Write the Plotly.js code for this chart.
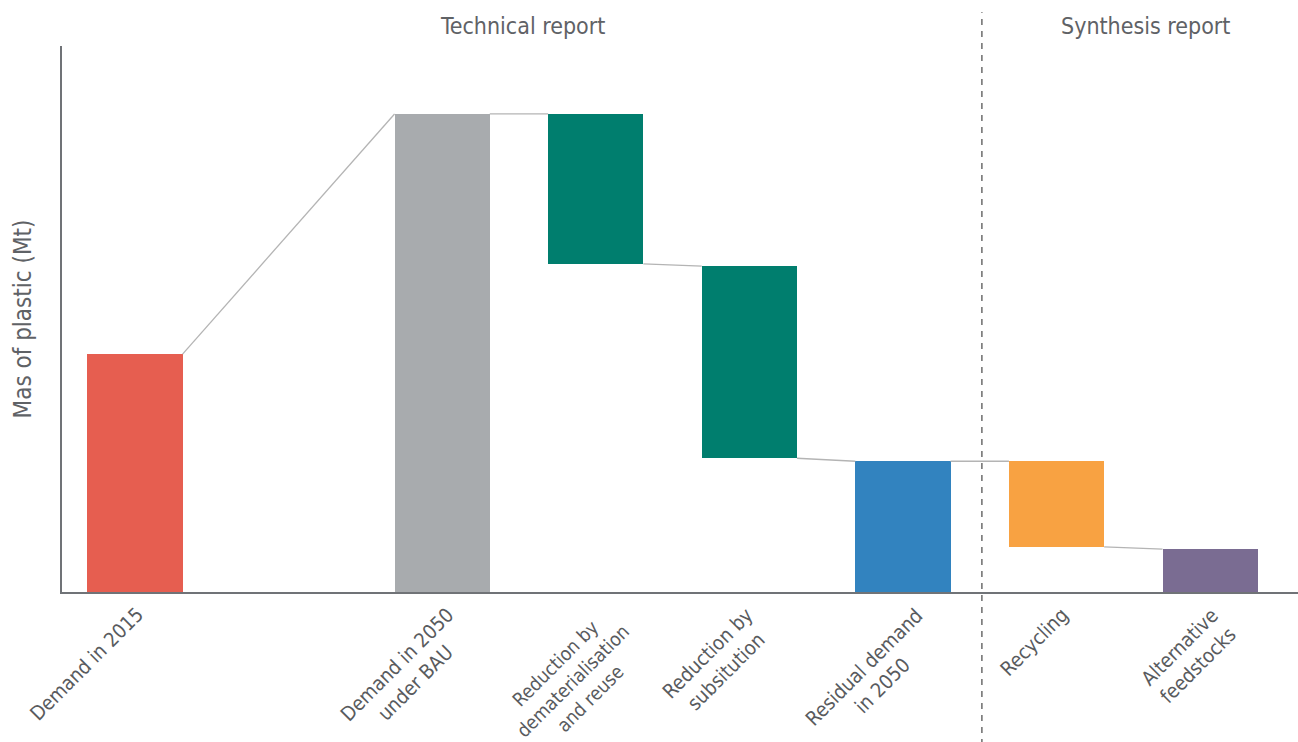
<!DOCTYPE html>
<html>
<head>
<meta charset="utf-8">
<script src="https://cdn.plot.ly/plotly-3.0.1.min.js"></script>
<style>html,body{margin:0;padding:0;background:#fff;}#chart{width:1298px;height:742px;}</style>
</head>
<body>
<div id="chart"></div>
<script>
// Categories and their slot positions (one empty slot between 2015 and 2050)
const categories = ["Demand in 2015", "Demand in 2050<br>under BAU", "Reduction by<br>dematerialisation<br>and reuse", "Reduction by<br>subsitution", "Residual demand<br>in 2050", "Recycling", "Alternative<br>feedstocks"];
const slots = [0, 2, 3, 4, 5, 6, 7];
// Bar bottoms and tops (Mt, estimated)
const barBase = [0, 0, 444, 181, 0, 61, 0];
const barTop = [322, 647, 647, 441, 177, 177, 58];
// Whether bar is a decrease step (connector leaves from its bottom)
const isDecrease = [false, false, true, true, false, true, false];
const colors = ["#E65E50", "#A8ABAE", "#007E6E", "#007E6E", "#3283BF", "#F8A242", "#7A6C92"];
const sectionTitles = ["Technical report", "Synthesis report"];

// style: label offsets (pixels)
const labelShift = [16, 37, 58, 30, 46, 19, 34];
const labelSize = [20, 20, 19, 20, 20, 20, 20];

const barWidth = 0.62;
const fontFam = "'Liberation Sans Narrow', 'DejaVu Sans Condensed', 'Roboto', sans-serif";

const traces = [];
for (let i = 0; i < slots.length - 1; i++) {
  const out = isDecrease[i] ? barBase[i] : barTop[i];
  traces.push({
    type: 'scatter', mode: 'lines', hoverinfo: 'skip', showlegend: false,
    x: [slots[i] + barWidth / 2, slots[i + 1] - barWidth / 2],
    y: [out, barTop[i + 1]],
    line: {color: '#B4B4B4', width: 1.3}
  });
}
traces.push({
  type: 'bar', x: slots, y: barTop.map((t, i) => t - barBase[i]), base: barBase,
  width: barWidth, marker: {color: colors, line: {width: 0}}, showlegend: false,
  hoverinfo: 'skip'
});

const annotations = categories.map((c, i) => ({
  x: slots[i], y: 0, xref: 'x', yref: 'y', text: c, showarrow: false,
  textangle: -45, xanchor: 'right', yanchor: 'top', align: 'center',
  xshift: labelShift[i], yshift: -8,
  font: {family: fontFam, size: labelSize[i], color: '#595b5e'}
}));
annotations.push({x: 2.52, y: 1.037, xref: 'x', yref: 'paper', text: sectionTitles[0], showarrow: false,
  xanchor: 'center', yanchor: 'middle', font: {family: fontFam, size: 23, color: '#5f6266'}});
annotations.push({x: 6.58, y: 1.037, xref: 'x', yref: 'paper', text: sectionTitles[1], showarrow: false,
  xanchor: 'center', yanchor: 'middle', font: {family: fontFam, size: 23, color: '#5f6266'}});

const layout = {
  width: 1298, height: 742,
  margin: {l: 62, r: 0, t: 46, b: 150},
  paper_bgcolor: '#fff', plot_bgcolor: '#fff',
  xaxis: {range: [-0.475, 7.572], showgrid: false, zeroline: false, showticklabels: false,
    ticks: '', showline: true, linecolor: '#707377', linewidth: 2, fixedrange: true},
  yaxis: {range: [0, 739], showgrid: false, zeroline: false, showticklabels: false, ticks: '',
    showline: true, linecolor: '#707377', linewidth: 2,
    title: {text: 'Mas of plastic (Mt)', standoff: 22, font: {family: fontFam, size: 24, color: '#5f6266'}}},
  shapes: [{type: 'line', xref: 'x', yref: 'paper', x0: 5.514, x1: 5.514, y0: -0.28, y1: 1.062,
    line: {color: '#555', width: 1.3, dash: '6px,6px'}}],
  annotations: annotations,
  bargap: 0
};
Plotly.newPlot('chart', traces, layout, {displayModeBar: false, staticPlot: true});
</script>
</body>
</html>
